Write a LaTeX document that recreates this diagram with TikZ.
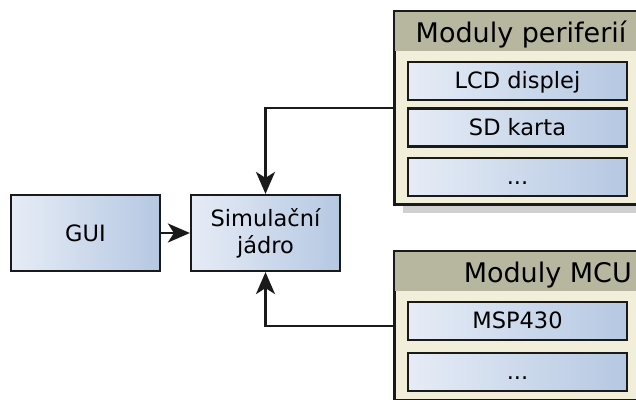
\documentclass[tikz,border=0pt]{standalone}
\usepackage{fontspec}
\setmainfont{DejaVu Sans}
\usetikzlibrary{arrows.meta}
\definecolor{boxleft}{HTML}{E6ECF6}
\definecolor{boxright}{HTML}{B5C8E2}
\definecolor{groupbody}{HTML}{F1EED9}
\definecolor{grouphead}{HTML}{B7B7A0}
\definecolor{groupshadow}{HTML}{D0D0D0}
\definecolor{edge}{HTML}{1A1A1A}
\tikzset{
  x=1pt, y=-1pt,
  block/.style={draw=edge, line width=2.2pt, left color=boxleft, right color=boxright,
    inner sep=0pt, align=center, font=\fontsize{22.5}{27}\selectfont},
  modbox/.style={block, minimum width=219pt, minimum height=38pt,
    text height=20.5pt, text depth=5pt},
  group/.style={draw=edge, line width=2.2pt, fill=groupbody, inner sep=0pt},
  headtext/.style={inner sep=0pt, font=\fontsize{27}{32}\selectfont},
  link/.style={draw=edge, line width=2.2pt, -{Stealth[length=22pt,width=19pt,inset=6pt]}},
}
\begin{document}
\begin{tikzpicture}
\useasboundingbox (0,0) rectangle (636,399);
\clip (0,0) rectangle (636,399);

% left side: GUI and simulation core
\node[block, minimum width=149pt, minimum height=76pt] (gui) at (85.5,233) {GUI};
\node[block, minimum width=149pt, minimum height=76pt] (sim) at (265.5,233) {Simulační\\jádro};

% peripheral modules group
\fill[groupshadow] (403,20) rectangle (653,213);
\node[group, minimum width=250pt, minimum height=192pt] (perif) at (520,108) {};
\fill[grouphead] ([shift={(1,1)}]perif.north west) rectangle ([shift={(-1,40)}]perif.north east);
\draw[edge, line width=2.2pt] (perif.north west) rectangle (perif.south east);
\node[headtext, anchor=base west] (perifhead) at (415.5,42) {Moduly periferií};
\node[modbox] (lcd) at (517.5,81) {LCD displej};
\node[modbox] (sd) at (517.5,127.5) {SD karta};
\node[modbox] (pmore) at (517.5,177) {...};

% MCU modules group
\fill[groupshadow] (403,260) rectangle (653,420);
\node[group, minimum width=250pt, minimum height=148pt] (mcu) at (520,326) {};
\fill[grouphead] ([shift={(1,1)}]mcu.north west) rectangle ([shift={(-1,40)}]mcu.north east);
\draw[edge, line width=2.2pt] (mcu.north west) rectangle (mcu.south east);
\node[headtext, anchor=base east] (mcuhead) at (632,282) {Moduly MCU};
\node[modbox] (msp) at (517.5,321) {MSP430};
\node[modbox] (mmore) at (517.5,372) {...};

% connectors
\draw[link] (gui) -- (sim);
\draw[link] (perif.west) -| (sim.north);
\draw[link] (mcu.west) -| (sim.south);
\end{tikzpicture}
\end{document}
